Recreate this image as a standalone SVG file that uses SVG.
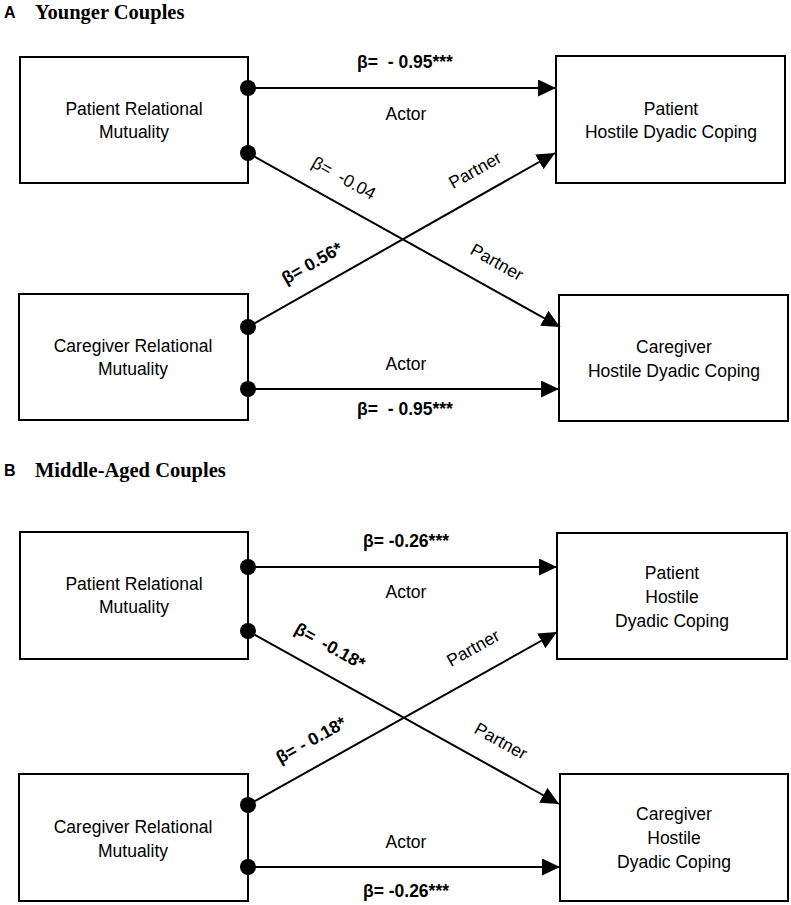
<svg xmlns="http://www.w3.org/2000/svg" width="791" height="905" viewBox="0 0 791 905">
<style>
.box{fill:#fff;stroke:#000;stroke-width:2}
.lbl{font-family:"Liberation Sans",Arial,sans-serif;font-size:17.5px;fill:#000;text-anchor:middle;white-space:pre}
.b{font-weight:bold}
.edge{stroke:#000;stroke-width:2;fill:none;marker-end:url(#arr)}
.dot{fill:#000}
.ttl{font-family:"Liberation Serif","Times New Roman",serif;font-weight:bold;font-size:20.5px;fill:#000}
.ttlL{font-family:"Liberation Sans",Arial,sans-serif;font-weight:bold;font-size:16px;fill:#000}
</style>
<defs>
<marker id="arr" markerUnits="userSpaceOnUse" markerWidth="19" markerHeight="17" refX="18" refY="8.5" orient="auto">
<path d="M0,0 L18,8.5 L0,17 Z" fill="#000"/>
</marker>
</defs>
<rect width="791" height="905" fill="#fff"/>

<text class="ttlL" x="4" y="18">A</text>
<text class="ttl" x="35" y="19">Younger Couples</text>
<text class="ttlL" x="4" y="476">B</text>
<text class="ttl" x="35" y="477">Middle-Aged Couples</text>

<g id="A_patient_rm">
<rect class="box" x="20" y="57" width="228" height="126"/>
<text class="lbl" x="134" y="115">Patient Relational</text>
<text class="lbl" x="134" y="138">Mutuality</text>
</g>
<g id="A_caregiver_rm">
<rect class="box" x="19" y="294" width="229" height="126"/>
<text class="lbl" x="133" y="352">Caregiver Relational</text>
<text class="lbl" x="133" y="375">Mutuality</text>
</g>
<g id="A_patient_hdc">
<rect class="box" x="556" y="56" width="229" height="127"/>
<text class="lbl" x="671" y="115">Patient</text>
<text class="lbl" x="671" y="138">Hostile Dyadic Coping</text>
</g>
<g id="A_caregiver_hdc">
<rect class="box" x="559" y="295" width="229" height="126"/>
<text class="lbl" x="674" y="353">Caregiver</text>
<text class="lbl" x="674" y="377">Hostile Dyadic Coping</text>
</g>

<g id="B_patient_rm">
<rect class="box" x="20" y="532" width="228" height="127"/>
<text class="lbl" x="134" y="590">Patient Relational</text>
<text class="lbl" x="134" y="613">Mutuality</text>
</g>
<g id="B_caregiver_rm">
<rect class="box" x="19" y="774" width="229" height="127"/>
<text class="lbl" x="133" y="833">Caregiver Relational</text>
<text class="lbl" x="133" y="857">Mutuality</text>
</g>
<g id="B_patient_hdc">
<rect class="box" x="557" y="533" width="230" height="126"/>
<text class="lbl" x="672" y="579">Patient</text>
<text class="lbl" x="672" y="603">Hostile</text>
<text class="lbl" x="672" y="627">Dyadic Coping</text>
</g>
<g id="B_caregiver_hdc">
<rect class="box" x="560" y="774" width="228" height="127"/>
<text class="lbl" x="674" y="820">Caregiver</text>
<text class="lbl" x="674" y="844">Hostile</text>
<text class="lbl" x="674" y="868">Dyadic Coping</text>
</g>

<g id="connectors">
<line class="edge" x1="248" y1="88" x2="556" y2="88"/>
<line class="edge" x1="248" y1="153" x2="560" y2="327"/>
<line class="edge" x1="248" y1="327" x2="555" y2="153"/>
<line class="edge" x1="248" y1="389" x2="559" y2="389"/>
<circle class="dot" cx="248" cy="88" r="8"/>
<circle class="dot" cx="248" cy="153" r="8"/>
<circle class="dot" cx="248" cy="327" r="8"/>
<circle class="dot" cx="248" cy="389" r="8"/>

<line class="edge" x1="248" y1="567" x2="557" y2="567"/>
<line class="edge" x1="248" y1="631" x2="559" y2="804"/>
<line class="edge" x1="248" y1="805" x2="557" y2="632"/>
<line class="edge" x1="248" y1="867" x2="560" y2="867"/>
<circle class="dot" cx="248" cy="567" r="8"/>
<circle class="dot" cx="248" cy="631" r="8"/>
<circle class="dot" cx="248" cy="805" r="8"/>
<circle class="dot" cx="248" cy="867" r="8"/>

<text class="lbl b" x="405" y="68">β=  - 0.95***</text>
<text class="lbl" x="406" y="120">Actor</text>
<text class="lbl" x="406" y="370">Actor</text>
<text class="lbl b" x="405" y="415">β=  - 0.95***</text>
<text class="lbl" transform="translate(344,178) rotate(29.15)" x="0" y="6">β=  -0.04</text>
<text class="lbl" transform="translate(497,262) rotate(29.15)" x="0" y="6">Partner</text>
<text class="lbl b" transform="translate(312,263) rotate(-29.54)" x="0" y="6">β= 0.56*</text>
<text class="lbl" transform="translate(475,170) rotate(-29.54)" x="0" y="6">Partner</text>

<text class="lbl b" x="406" y="547">β= -0.26***</text>
<text class="lbl" x="406" y="598">Actor</text>
<text class="lbl" x="406" y="848">Actor</text>
<text class="lbl b" x="406" y="897">β= -0.26***</text>
<text class="lbl b" transform="translate(330,646) rotate(29.09)" x="0" y="6">β=  -0.18*</text>
<text class="lbl" transform="translate(501,741) rotate(29.09)" x="0" y="6">Partner</text>
<text class="lbl b" transform="translate(311,740) rotate(-29.24)" x="0" y="6">β= - 0.18*</text>
<text class="lbl" transform="translate(473,648) rotate(-29.24)" x="0" y="6">Partner</text>
</g>
</svg>
